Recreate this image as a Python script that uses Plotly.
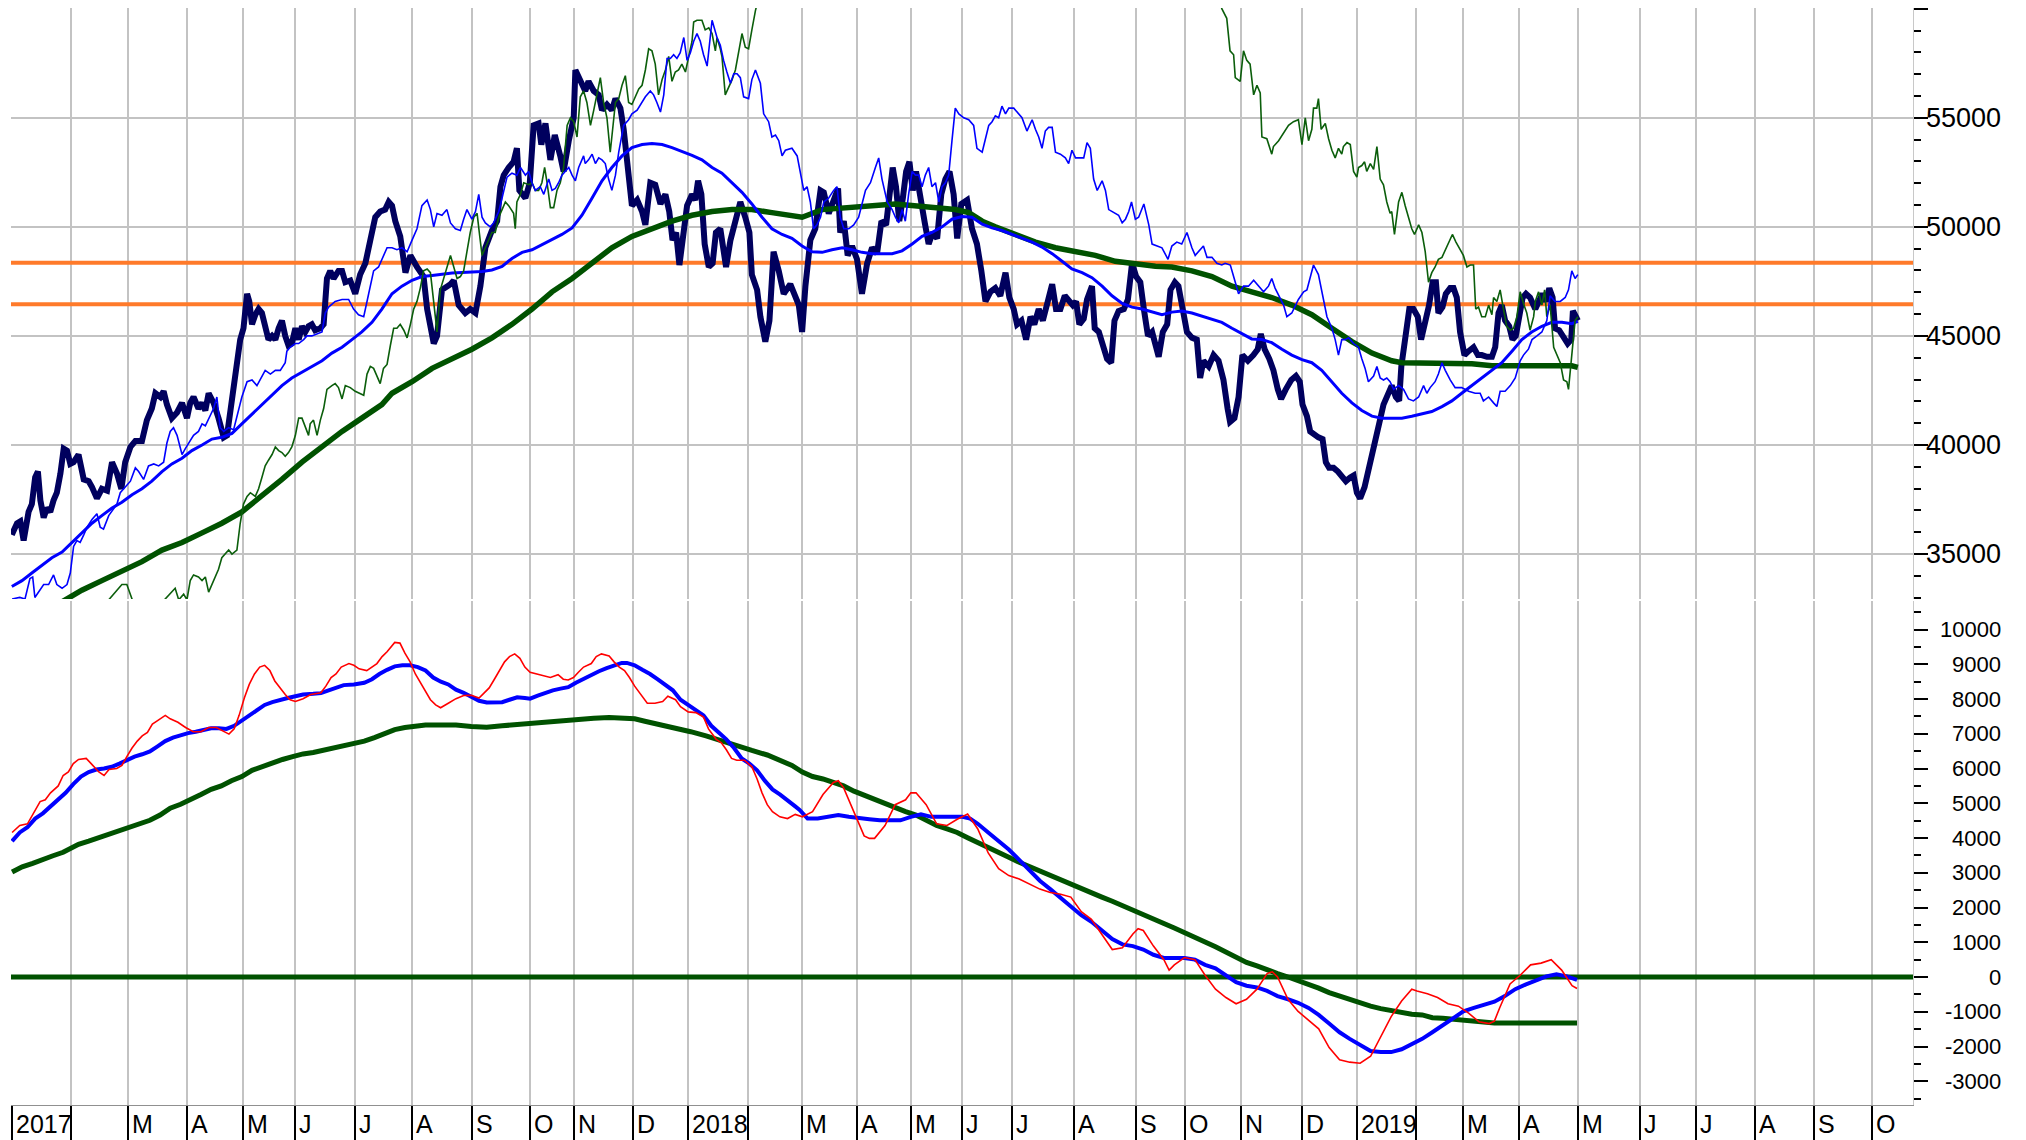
import plotly.graph_objects as go

# x axis is in trading days counted from the first session of 2017
MONTH_DAYS = [0, 21.6, 42.3, 63.9, 84.3, 103.2, 125.1, 145.9, 167.8, 188.9, 204.9, 226.4,
              246.4, 268.3, 287.9, 308.0, 327.6, 346.2, 364.4, 387.0, 409.6, 427.5, 447.8, 470.1,
              490.1, 511.6, 528.7, 549.1, 570.6, 593.2, 613.6, 635.1, 656.6, 677.8]
MONTH_LABELS = ["2017", "", "M", "A", "M", "J", "J", "A", "S", "O", "N", "D",
                "2018", "", "M", "A", "M", "J", "J", "A", "S", "O", "N", "D",
                "2019", "", "M", "A", "M", "J", "J", "A", "S", "O"]

PRICE_TICKS = [35000, 40000, 45000, 50000, 55000]
OSC_TICKS = [10000, 9000, 8000, 7000, 6000, 5000, 4000, 3000, 2000, 1000, 0,
             -1000, -2000, -3000]

LEVELS = [48350, 46450]
OSC_BASE = 0

# (day, value)
PRICE = [
    (0.1, 35880), (2, 36410), (3.2, 36500), (4.4, 35620), (6.2, 36930), (7.4, 37290),
    (8.6, 38510), (9.6, 38780), (10.5, 37460), (11.7, 36670), (12.9, 37110), (14.1, 36930),
    (15.3, 37460), (16.5, 37810), (17.8, 38690), (19, 39830), (20.2, 39740), (21.4, 39130),
    (22.6, 39210), (24.4, 39560), (26.3, 38420), (28.1, 38340), (29.3, 38070), (31.1, 37550),
    (32.9, 37990), (34.8, 37900), (36.6, 39210), (38.4, 38690), (40, 37990), (41.4, 39210),
    (43.3, 39910), (45.1, 40180), (47.5, 40180), (49.3, 41140), (51.1, 41670), (52.4, 42370),
    (54.2, 42200), (55.4, 42460), (56.6, 41850), (58.4, 41230), (60.3, 41490), (62.1, 41930),
    (63.9, 41230), (65.1, 41930), (66.3, 42200), (68.1, 41670), (69.4, 41930), (70.6, 41580),
    (71.8, 42370), (73.6, 41930), (75.4, 41230), (77.3, 40350), (78.5, 40440), (79.7, 41670),
    (80.9, 42720), (82.1, 43950), (83.3, 44830), (84.5, 45350), (85.8, 46930), (86.6, 46580),
    (87.6, 45530), (88.8, 45970), (90, 46230), (91.2, 46050), (92.4, 45530), (93.6, 44830),
    (94.9, 45000), (96.1, 44830), (97.3, 45350), (98.5, 45700), (99.7, 45000), (100.9, 44560),
    (102.1, 44650), (103.4, 45350), (104.6, 44830), (105.8, 45440), (107, 45180), (108.2, 45440),
    (109.4, 45530), (110.6, 45260), (112.5, 45350), (113.7, 45530), (114.9, 47630), (116.1, 47980),
    (117.3, 47630), (119.1, 47980), (120.4, 47980), (121.6, 47460), (123.4, 47540), (125.2, 46930),
    (127, 47810), (128.9, 48330), (130.7, 49390), (132.5, 50440), (134.3, 50700), (136.1, 50790),
    (137.4, 51140), (138.6, 50970), (139.8, 50260), (141.6, 49560), (143.5, 47900), (145.3, 48690),
    (147.7, 48160), (150.1, 47720), (151.4, 46230), (153.8, 44650), (155.0, 45000), (156.8, 47110),
    (159.9, 47370), (161.1, 47540), (162.9, 46410), (165.3, 46050), (167.1, 46230), (169.0, 46050),
    (170.8, 47280), (172.6, 49040), (175.0, 49830), (176.9, 50260), (178.1, 51840), (179.3, 52370),
    (181.1, 52720), (182.9, 52980), (184.1, 53600), (185.0, 51670), (187.2, 51320), (188.8, 52020),
    (190.2, 54650), (192.0, 54740), (193.0, 53770), (194.5, 54740), (196.3, 53070), (197.9, 54210),
    (199.9, 53250), (201.1, 52540), (203.0, 53950), (204.8, 55000), (205.4, 57190), (207.2, 56750),
    (209.0, 56230), (210.2, 56670), (212.1, 56230), (213.9, 56050), (215.1, 55350), (216.9, 55610),
    (218.7, 55350), (220.0, 55880), (221.8, 55440), (223.0, 54470), (224.2, 52900), (226.0, 50970),
    (227.9, 51230), (229.7, 50700), (230.9, 50090), (232.7, 52020), (234.5, 51930), (236.4, 51050),
    (238.2, 51490), (239.6, 50700), (240.8, 49390), (242.1, 49740), (243.3, 48250), (244.9, 49560),
    (246.1, 50970), (247.9, 51490), (249.1, 51230), (250.1, 52110), (251.3, 51490), (252.5, 49210),
    (254.0, 48160), (255.4, 48330), (256.6, 49740), (258.2, 49910), (259.4, 49040), (260.3, 48160),
    (261.9, 49390), (263.7, 50260), (265.5, 51140), (267.3, 50440), (268.8, 49740), (269.7, 47810),
    (271.6, 47110), (272.8, 45880), (274.6, 44740), (276.1, 45700), (277.6, 48860), (279.5, 47980),
    (281.3, 46930), (283.7, 47370), (286.8, 46410), (288.0, 45180), (289.2, 47280), (291.0, 49390),
    (292.8, 49910), (294.7, 51670), (295.9, 51580), (297.7, 50610), (299.5, 51320), (301.1, 51760),
    (301.9, 49740), (303.2, 50260), (304.6, 48690), (306.2, 49120), (308.0, 48510), (309.8, 46930),
    (311.7, 48330), (313.5, 49040), (315.3, 48770), (316.9, 50260), (318.6, 50090), (320.2, 52020),
    (321.0, 52720), (322.2, 51840), (323.4, 50260), (324.7, 51320), (325.9, 52540), (327.1, 52980),
    (328.3, 51670), (329.5, 52540), (331.1, 51140), (332.7, 50180), (334.1, 49210), (335.6, 49740),
    (337.2, 49470), (338.7, 51490), (340.2, 52190), (341.7, 52540), (343.2, 51490), (344.5, 49470),
    (346.0, 51050), (348.1, 51230), (349.9, 49910), (351.7, 49210), (353.3, 47980), (354.8, 46580),
    (356.6, 47020), (358.4, 47190), (360.2, 46840), (362.1, 47900), (363.5, 46760), (365.1, 46230),
    (366.3, 45530), (367.9, 45700), (369.6, 44830), (371.2, 45880), (372.6, 45530), (374.2, 46230),
    (375.7, 45700), (377.2, 46410), (379.1, 47370), (380.5, 46230), (382.1, 46230), (383.7, 46840),
    (385.1, 46580), (386.6, 46410), (387.8, 46580), (389.0, 45530), (390.6, 45790), (391.8, 46670),
    (393.6, 47280), (394.6, 45350), (396.1, 45180), (397.5, 44480), (399.1, 43950), (400.6, 43770),
    (401.8, 45700), (403.3, 46140), (405.2, 46230), (406.7, 46670), (408.2, 48330), (409.7, 47720),
    (411.2, 47460), (412.5, 46230), (414.0, 45000), (415.5, 45180), (416.7, 44650), (417.9, 44040),
    (419.4, 45180), (421.0, 45530), (422.2, 47110), (423.8, 47460), (425.1, 47280), (426.3, 46410),
    (428.2, 45180), (430.0, 44920), (431.8, 44830), (433.0, 43070), (434.2, 43860), (436.1, 43600),
    (437.9, 44120), (439.7, 43860), (441.5, 42980), (443.0, 41670), (443.9, 41060), (445.5, 41230),
    (447.0, 42200), (448.4, 44120), (450.4, 43860), (452.4, 44120), (454.0, 44390), (455.1, 45090),
    (456.5, 44390), (458.2, 43950), (459.7, 43420), (461.3, 42550), (462.5, 42110), (464.2, 42550),
    (466.2, 42980), (467.9, 43160), (469.3, 42900), (470.3, 41850), (471.9, 41320), (473.1, 40620),
    (474.7, 40440), (476.1, 40350), (477.6, 40270), (478.8, 39210), (480.0, 38950), (481.6, 38950),
    (483.2, 38780), (484.6, 38600), (486.1, 38340), (487.7, 38510), (488.9, 38600), (490.1, 37810),
    (491.3, 37550), (492.9, 38070), (494.1, 38780), (495.6, 39740), (497.0, 40440), (498.2, 40970),
    (499.8, 41850), (501.4, 42280), (502.8, 42720), (504.3, 42200), (505.5, 42020), (506.3, 43600),
    (507.7, 44830), (509.2, 46230), (510.7, 46230), (512.3, 45880), (513.5, 44830), (515.0, 45530),
    (516.4, 46410), (517.7, 47460), (518.9, 47460), (519.8, 46050), (521.3, 46320), (522.5, 46930),
    (524.1, 47190), (525.3, 47190), (526.5, 46760), (527.7, 45180), (529.3, 44120), (530.8, 44300),
    (532.6, 44480), (534.2, 44120), (535.6, 44120), (537.5, 44040), (539.3, 44040), (540.5, 44480),
    (541.7, 46050), (542.9, 46410), (544.1, 45700), (545.6, 45440), (546.8, 44830), (548.0, 45000),
    (549.2, 45880), (550.5, 46760), (551.7, 46930), (553.2, 46760), (555.1, 46230), (556.3, 46580),
    (557.7, 46930), (559.0, 46580), (560.2, 47190), (561.4, 46760), (562.3, 45350), (563.8, 45260),
    (565.4, 45000), (566.9, 44650), (568.2, 44830), (568.8, 46140), (569.9, 45880), (570.6, 45700),
]

# thin blue line
FAST = [
    (0.2, 32940), (3.0, 33010), (4.9, 32940), (6.7, 33880), (7.7, 33950), (8.5, 33010),
    (11.7, 33600), (13.5, 33600), (15.3, 34040), (16.5, 33600), (18.4, 33430), (20.2, 33600),
    (21.4, 34130), (22.6, 35350), (23.8, 35620), (25.0, 35530), (26.3, 35880), (27.5, 36230),
    (29.3, 36580), (31.1, 36850), (32.3, 36230), (33.5, 36140), (35.4, 36760), (37.2, 37110),
    (38.4, 37290), (39.6, 37810), (41.4, 38070), (43.3, 38340), (45.1, 38950), (46.3, 38780),
    (48.1, 38420), (49.9, 39040), (51.8, 39130), (53.6, 39040), (55.4, 39210), (56.6, 40090),
    (57.8, 40620), (59.0, 40790), (60.3, 40440), (62.1, 39560), (63.3, 39830), (64.5, 40090),
    (66.3, 40440), (68.1, 40620), (69.4, 40970), (70.6, 40880), (71.8, 41230), (73.6, 41670),
    (74.8, 42200), (76.0, 40790), (77.3, 40620), (79.1, 40790), (80.9, 40700), (82.1, 41320),
    (83.9, 42200), (85.8, 42900), (87.6, 42980), (89.4, 42720), (91.2, 43160), (92.4, 43420),
    (94.3, 43250), (96.1, 43420), (97.9, 43420), (99.7, 43770), (100.3, 44300), (101.5, 44480),
    (103.4, 44650), (104.6, 44650), (106.4, 44830), (107.6, 45000), (109.4, 45000), (111.3, 45090),
    (113.1, 45180), (114.3, 46050), (115.5, 46320), (117.9, 46580), (120.4, 46670), (122.8, 46670),
    (124.6, 46230), (126.4, 45970), (128.3, 45880), (130.1, 46930), (131.9, 47980), (133.7, 48160),
    (135.5, 48690), (136.8, 49040), (138.6, 49040), (140.4, 48950), (142.2, 49040), (144.1, 48860),
    (145.9, 49390), (147.7, 49910), (149.5, 50970), (151.4, 51230), (152.6, 50790), (153.8, 50000),
    (155.0, 50610), (156.8, 50530), (158.6, 50790), (159.9, 50180), (161.7, 49910), (163.5, 49830),
    (164.7, 50350), (165.9, 50790), (167.7, 50350), (169.0, 50700), (170.2, 51490), (171.4, 50440),
    (172.6, 50180), (174.4, 50000), (175.6, 50180), (177.5, 50700), (178.7, 51320), (180.5, 52280),
    (182.3, 52460), (184.1, 52370), (185.4, 52720), (187.2, 52370), (188.4, 52540), (189.6, 52020),
    (190.8, 51670), (192.6, 51840), (193.9, 51490), (195.7, 52190), (196.9, 51670), (198.1, 51760),
    (199.3, 52020), (200.5, 52370), (201.7, 52540), (203.0, 52720), (204.2, 52370), (205.4, 52110),
    (206.6, 52720), (208.4, 53250), (209.0, 52900), (210.2, 53070), (211.5, 53330), (212.7, 52900),
    (213.9, 53160), (215.1, 53070), (216.3, 52900), (217.5, 52190), (218.7, 51670), (220.0, 52370),
    (221.2, 53420), (223.0, 54650), (224.8, 54910), (226.0, 55180), (227.9, 55350), (229.1, 55610),
    (230.9, 55960), (232.7, 56230), (233.9, 56050), (235.1, 55700), (236.4, 55260), (237.6, 56050),
    (238.8, 57720), (240.0, 57720), (241.2, 57890), (242.4, 57720), (243.6, 57980), (244.9, 58680),
    (246.1, 57630), (247.3, 57980), (248.5, 58510), (249.7, 58860), (250.9, 58510), (252.1, 57890),
    (253.4, 57370), (255.2, 59470), (257.0, 58680), (258.2, 58330), (259.4, 57630), (260.6, 57100),
    (261.9, 56580), (263.1, 57020), (264.3, 57020), (265.5, 56840), (266.7, 55960), (268.5, 55880),
    (269.7, 56750), (271.0, 57190), (272.8, 56580), (274.0, 55180), (275.8, 54820), (277.0, 54120),
    (278.3, 54210), (279.5, 53950), (280.7, 53250), (281.9, 53510), (284.3, 53600), (286.2, 53250),
    (287.4, 52540), (288.6, 51670), (289.8, 51840), (291.0, 51140), (292.2, 49910), (293.4, 50090),
    (294.7, 50440), (295.9, 51140), (297.7, 51320), (299.5, 51670), (300.7, 51840), (301.9, 50440),
    (303.2, 49910), (305.0, 49910), (306.8, 50090), (308.6, 50440), (311.1, 51670), (312.9, 52020),
    (314.7, 52720), (315.9, 53160), (317.1, 52190), (319.0, 51140), (320.8, 50790), (322.0, 50440),
    (323.2, 50180), (324.4, 50790), (325.6, 50260), (326.8, 51490), (328.1, 52540), (329.3, 52370),
    (330.5, 52370), (331.7, 51840), (332.9, 52370), (334.1, 52720), (335.3, 51840), (336.6, 52020),
    (337.8, 51140), (339.0, 51840), (340.2, 52020), (341.4, 52370), (342.6, 53950), (343.8, 55440),
    (345.1, 55180), (346.9, 55000), (348.7, 54910), (350.5, 54650), (351.7, 53600), (353.6, 53420),
    (354.8, 54040), (356.0, 54650), (357.2, 54820), (358.4, 55090), (359.6, 55000), (360.8, 55530),
    (362.1, 55180), (363.3, 55440), (365.1, 55440), (366.3, 55260), (368.1, 55000), (369.9, 54390),
    (371.8, 54910), (373.0, 54470), (374.2, 54120), (375.4, 53600), (376.6, 54390), (377.8, 54560),
    (379.1, 54560), (380.3, 53420), (382.1, 53330), (383.9, 53160), (385.1, 52900), (386.3, 53510),
    (387.6, 53160), (389.4, 53160), (390.6, 53160), (391.8, 53860), (393.0, 53600), (394.2, 52190),
    (395.5, 51670), (397.3, 52110), (398.5, 51670), (399.7, 50790), (400.9, 50700), (402.1, 50610),
    (403.3, 50530), (404.6, 50180), (405.8, 50350), (407.0, 50700), (408.0, 51140), (409.4, 50350),
    (410.6, 50440), (412.5, 51050), (414.3, 50090), (415.5, 49210), (417.3, 49120), (419.1, 49040),
    (421.3, 48510), (422.7, 49120), (424.5, 49300), (426.3, 49210), (428.2, 49740), (430.0, 49040),
    (431.2, 48690), (432.4, 48860), (434.2, 49120), (435.5, 48600), (437.3, 48600), (439.1, 48330),
    (440.9, 48250), (442.1, 48330), (444.0, 48250), (445.2, 47720), (447.0, 46930), (448.8, 47280),
    (450.6, 47280), (452.5, 47550), (454.3, 47280), (456.1, 47020), (457.9, 47280), (459.1, 47630),
    (460.3, 47190), (462.2, 46670), (463.4, 46410), (464.6, 45880), (466.4, 46050), (468.8, 46670),
    (470.7, 47020), (471.9, 47110), (473.1, 47720), (474.3, 48250), (476.1, 47810), (478.0, 46580),
    (479.2, 45880), (481.0, 45350), (482.2, 44830), (483.4, 44120), (484.6, 44830), (485.8, 44830),
    (487.1, 44910), (488.9, 44650), (490.7, 44480), (491.9, 43950), (493.1, 43510), (494.3, 42900),
    (496.2, 43160), (497.4, 43600), (498.6, 43070), (499.8, 42980), (501.0, 43070), (502.2, 42900),
    (503.5, 42550), (505.3, 42720), (507.1, 42550), (508.9, 42110), (510.7, 42020), (512.6, 42200),
    (514.4, 42720), (515.6, 42370), (516.8, 42630), (518.6, 42900), (519.8, 43250), (521.1, 43770),
    (522.3, 43420), (524.1, 42980), (525.9, 42630), (528.3, 42630), (530.8, 42460), (533.2, 42370),
    (535.0, 42370), (536.2, 42020), (538.1, 42200), (539.9, 41930), (541.1, 41760), (542.3, 42460),
    (544.1, 42460), (546.0, 42720), (547.8, 43070), (549.6, 43860), (550.8, 44120), (552.6, 44390),
    (553.9, 44830), (555.7, 45000), (557.5, 45180), (559.3, 45700), (560.5, 46840), (562.3, 46580),
    (564.2, 46580), (566.0, 46760), (567.2, 47110), (568.4, 47980), (569.6, 47630), (570.6, 47810),
]

# thin green line (runs off the panel at both ends of its big swing)
SLOW = [
    (34.0, 32600), (35.4, 32900), (38.4, 33340), (40.2, 33600), (42.0, 33600), (43.3, 33160),
    (44.5, 32720), (52.0, 32400), (59.6, 33430), (60.9, 32900), (62.7, 33160), (63.9, 32900),
    (65.1, 33780), (66.3, 34040), (68.1, 33950), (69.4, 33780), (70.6, 33950), (71.8, 33250),
    (73.6, 33780), (75.4, 34300), (76.6, 34830), (77.9, 35000), (79.1, 35180), (80.3, 35000),
    (82.1, 35180), (83.3, 36410), (84.5, 37290), (85.8, 37640), (87.0, 37810), (88.8, 37640),
    (90.0, 37990), (91.2, 38510), (92.4, 39040), (93.6, 39300), (94.9, 39560), (96.1, 39910),
    (97.3, 39740), (98.5, 39650), (99.7, 39480), (100.9, 39650), (102.1, 39910), (103.4, 40440),
    (104.6, 41230), (105.8, 41230), (107.0, 40790), (108.2, 40440), (108.8, 40970), (110.0, 41140),
    (111.3, 40440), (112.5, 41140), (113.7, 41670), (114.9, 42550), (116.7, 42720), (117.9, 42810),
    (119.1, 42630), (120.4, 42110), (121.6, 42720), (123.4, 42630), (125.2, 42460), (127.0, 42370),
    (128.3, 42280), (129.5, 43250), (130.7, 43600), (131.9, 43510), (133.1, 43160), (134.3, 42810),
    (135.5, 43510), (136.8, 43690), (138.0, 44560), (139.2, 45350), (140.4, 45350), (141.6, 45530),
    (142.9, 45260), (144.1, 44910), (145.3, 45530), (146.5, 46230), (147.7, 46580), (148.9, 47190),
    (150.1, 47980), (151.4, 48070), (152.6, 47900), (153.8, 46410), (155.0, 45180), (156.2, 47110),
    (157.4, 47630), (158.6, 48160), (159.9, 48690), (161.1, 48160), (162.3, 47630), (163.5, 47720),
    (164.7, 47980), (165.9, 48860), (167.1, 49740), (168.4, 50440), (169.6, 50620), (170.4, 49740),
    (171.4, 48690), (172.6, 49040), (173.8, 49390), (175.0, 49740), (176.2, 49740), (177.5, 50440),
    (178.7, 50790), (179.9, 51140), (181.1, 50970), (182.9, 50620), (183.5, 49910), (184.1, 51140),
    (185.4, 51490), (186.6, 52020), (188.4, 51930), (189.6, 52020), (190.8, 51670), (192.0, 51670),
    (193.2, 52020), (194.2, 52720), (195.1, 52020), (196.3, 50880), (197.5, 50880), (198.7, 51670),
    (199.9, 52020), (201.1, 52720), (202.4, 54650), (203.6, 55000), (204.8, 54820), (206.0, 54120),
    (207.2, 55960), (208.4, 56230), (209.6, 55700), (210.9, 54650), (212.1, 55350), (213.3, 56140),
    (214.5, 56840), (215.7, 55700), (216.9, 55000), (218.1, 53420), (219.0, 54470), (220.0, 55700),
    (221.2, 55880), (222.4, 56490), (223.6, 56930), (224.8, 55700), (226.0, 55610), (227.2, 55960),
    (228.5, 56320), (229.7, 56490), (230.9, 57190), (232.1, 58160), (233.3, 58070), (234.5, 57460),
    (235.7, 56050), (237.0, 56750), (238.2, 57190), (239.4, 57810), (240.6, 56670), (241.8, 57100),
    (243.0, 57190), (244.2, 57460), (245.5, 57100), (246.7, 57810), (247.9, 58510), (248.5, 59390),
    (249.7, 59470), (251.5, 59470), (252.7, 59030), (254.0, 59120), (255.2, 58860), (256.4, 58070),
    (257.0, 58680), (258.2, 58160), (258.8, 57810), (260.0, 56050), (261.2, 56400), (262.5, 56750),
    (263.7, 57190), (264.9, 57980), (266.1, 58860), (267.3, 58240), (268.5, 58160), (269.7, 59030),
    (271.0, 59910), (274.0, 61500), (438.0, 61500), (440.9, 60000), (442.7, 59560), (443.9, 58070),
    (445.2, 57890), (445.8, 56840), (447.6, 56670), (448.8, 58070), (450.0, 57630), (451.2, 57460),
    (452.5, 56050), (453.7, 56490), (454.9, 56140), (455.5, 54120), (457.3, 54040), (459.1, 53330),
    (459.7, 53680), (461.6, 53950), (463.4, 54300), (465.2, 54650), (467.0, 54820), (468.8, 54910),
    (470.1, 53770), (471.3, 55000), (472.5, 53950), (473.7, 54470), (474.3, 55440), (475.5, 55440),
    (476.1, 55880), (477.1, 54470), (478.6, 54740), (479.8, 54040), (481.0, 53510), (482.2, 53160),
    (483.4, 53600), (484.6, 53330), (485.2, 53680), (486.5, 53860), (487.7, 53770), (488.9, 52540),
    (490.1, 52280), (490.7, 52720), (491.9, 52810), (492.9, 52980), (493.7, 52540), (495.0, 52900),
    (496.2, 52630), (497.4, 53680), (498.6, 52190), (499.8, 51930), (501.0, 51140), (502.2, 50620),
    (502.8, 50700), (503.8, 49650), (505.3, 51140), (506.5, 51580), (507.7, 50970), (508.9, 50440),
    (510.1, 49910), (511.1, 49650), (512.6, 50090), (513.8, 49740), (515.0, 48860), (516.2, 47460),
    (517.4, 47900), (518.6, 48160), (519.8, 48510), (521.1, 48600), (522.3, 48950), (523.5, 49300),
    (524.9, 49650), (526.2, 49300), (527.4, 49040), (528.9, 48690), (530.2, 48160), (531.4, 48250),
    (532.6, 48250), (533.4, 46230), (534.4, 46320), (535.6, 45880), (536.9, 45880), (538.1, 46410),
    (539.3, 45970), (539.9, 46760), (541.1, 46580), (542.3, 47110), (543.5, 46230), (544.7, 45440),
    (546.0, 45260), (547.2, 45350), (548.4, 45880), (549.6, 47020), (550.8, 46490), (552.0, 46050),
    (553.2, 45260), (554.5, 45880), (555.1, 46580), (556.3, 47020), (557.5, 46410), (558.5, 47110),
    (559.3, 45880), (560.5, 46410), (561.8, 44480), (563.6, 43950), (564.2, 43770), (565.4, 42980),
    (566.6, 42900), (567.2, 42550), (568.4, 44300), (569.6, 45700), (570.6, 45880),
]

# thick blue average
AVG_BLUE = [
    (0.1, 33510), (3.8, 33780), (7.4, 34130), (11.1, 34480), (14.7, 34830), (18.4, 35090),
    (22.0, 35530), (25.6, 35970), (29.3, 36410), (32.9, 36760), (36.6, 37110), (40.2, 37370),
    (43.9, 37720), (47.5, 37990), (51.1, 38340), (54.8, 38780), (58.4, 39130), (62.1, 39390),
    (65.7, 39740), (69.4, 40000), (73.0, 40270), (76.6, 40350), (80.3, 40530), (83.9, 40970),
    (87.6, 41410), (91.2, 41850), (94.9, 42280), (98.5, 42720), (102.1, 43070), (105.8, 43340),
    (109.4, 43600), (113.1, 43860), (116.7, 44210), (120.4, 44480), (124.0, 44830), (127.6, 45180),
    (131.3, 45620), (134.9, 46230), (138.6, 46930), (142.2, 47280), (145.9, 47550), (149.5, 47720),
    (153.2, 47770), (156.8, 47840), (160.5, 47880), (164.1, 47910), (167.7, 47930), (171.4, 47950),
    (175.0, 48020), (178.7, 48190), (182.3, 48550), (186.0, 48830), (189.6, 48950), (193.2, 49180),
    (196.9, 49390), (200.5, 49650), (204.2, 49950), (207.8, 50530), (211.5, 51320), (215.1, 52110),
    (218.7, 52720), (222.4, 53250), (226.0, 53630), (229.7, 53770), (233.3, 53820), (237.0, 53770),
    (240.6, 53630), (244.2, 53460), (247.9, 53280), (251.5, 53070), (255.2, 52720), (258.8, 52460),
    (262.5, 52020), (266.1, 51580), (269.7, 51050), (273.4, 50440), (277.0, 49910), (280.7, 49650),
    (284.3, 49470), (288.0, 49120), (291.6, 48860), (295.3, 48830), (298.9, 48950), (302.6, 49040),
    (306.2, 48950), (309.8, 48830), (313.5, 48770), (317.1, 48770), (320.8, 48770), (324.4, 48900),
    (328.1, 49210), (331.7, 49560), (335.3, 49740), (339.0, 50000), (342.6, 50350), (346.3, 50470),
    (349.9, 50440), (353.6, 50120), (357.2, 49950), (360.8, 49830), (364.5, 49650), (368.1, 49470),
    (371.8, 49300), (375.4, 49070), (379.1, 48770), (382.7, 48420), (386.3, 48070), (390.0, 47900),
    (393.6, 47670), (397.3, 47280), (400.9, 46840), (404.6, 46490), (408.2, 46320), (411.8, 46230),
    (415.5, 46090), (419.1, 45970), (422.7, 46090), (426.3, 46140), (430.0, 46050), (433.6, 45910),
    (437.3, 45790), (440.9, 45620), (444.6, 45350), (448.2, 45090), (451.8, 44860), (455.5, 44830),
    (459.1, 44690), (462.8, 44390), (466.4, 44120), (470.1, 43910), (473.7, 43770), (477.3, 43420),
    (481.0, 42900), (484.6, 42370), (488.3, 41930), (491.9, 41580), (495.6, 41320), (499.2, 41230),
    (502.8, 41230), (506.5, 41230), (510.1, 41320), (513.8, 41410), (517.4, 41530), (521.1, 41760),
    (524.7, 42020), (528.3, 42370), (532.0, 42720), (535.6, 43070), (539.3, 43420), (542.9, 43770),
    (546.6, 44300), (550.2, 44830), (553.8, 45180), (557.5, 45440), (561.1, 45620), (564.8, 45620),
    (568.4, 45560), (570.6, 45670),
]

# thick green average
AVG_GREEN = [
    (18.4, 32810), (25.6, 33340), (32.9, 33780), (40.2, 34220), (47.5, 34650), (54.8, 35180),
    (62.1, 35530), (69.4, 35970), (76.6, 36410), (83.9, 36930), (91.2, 37640), (98.5, 38420),
    (105.8, 39210), (113.1, 39920), (120.4, 40620), (127.6, 41230), (134.9, 41850), (138.6, 42370),
    (145.9, 42900), (153.2, 43510), (160.5, 43950), (167.7, 44390), (175.0, 44910), (182.3, 45530),
    (189.6, 46230), (196.9, 47020), (204.2, 47630), (211.5, 48330), (218.7, 49040), (226.0, 49560),
    (233.3, 49910), (240.6, 50260), (247.9, 50530), (255.2, 50700), (262.5, 50790), (269.7, 50790),
    (277.0, 50650), (283.7, 50560), (288.0, 50440), (295.3, 50790), (302.6, 50880), (309.8, 50970),
    (317.1, 51000), (322.0, 51050), (329.3, 50970), (336.6, 50880), (343.8, 50790), (348.7, 50650),
    (353.6, 50260), (358.4, 50000), (365.7, 49650), (373.0, 49300), (380.3, 49040), (387.6, 48860),
    (394.8, 48690), (402.1, 48420), (409.4, 48280), (416.7, 48190), (422.7, 48160), (430.0, 47980),
    (437.3, 47720), (444.6, 47280), (451.8, 47020), (459.1, 46760), (466.4, 46410), (473.7, 45970),
    (481.0, 45350), (488.3, 44740), (495.6, 44210), (502.8, 43860), (506.5, 43770), (517.4, 43770),
    (532.0, 43720), (539.3, 43630), (553.8, 43600), (568.4, 43630), (570.6, 43560),
]

# lower panel
OSC_RED = [
    (0.2, 4160), (3.0, 4360), (5.8, 4410), (7.7, 4660), (10.4, 5050), (12.3, 5100), (14.2, 5300),
    (17.0, 5500), (18.8, 5800), (20.7, 5900), (22.5, 6140), (24.4, 6260), (27.2, 6290), (29.0, 6140),
    (31.8, 5900), (33.7, 5800), (35.5, 5970), (38.3, 6000), (40.2, 6090), (42.0, 6340), (43.9, 6590),
    (45.8, 6790), (47.6, 6940), (49.5, 7040), (51.3, 7280), (53.2, 7380), (56.0, 7530), (57.8, 7430),
    (60.6, 7330), (63.4, 7180), (66.2, 7060), (69.0, 7060), (71.8, 7180), (74.6, 7180), (77.4, 7060),
    (79.2, 6990), (81.1, 7140), (82.9, 7530), (84.8, 8030), (86.6, 8420), (88.5, 8720), (90.4, 8920),
    (92.2, 8970), (94.1, 8820), (95.9, 8520), (97.8, 8320), (99.7, 8130), (101.5, 7980), (103.4, 7930),
    (106.2, 8010), (109.0, 8130), (112.7, 8180), (114.5, 8370), (116.4, 8620), (118.2, 8720),
    (120.1, 8920), (122.9, 9020), (124.7, 8970), (126.6, 8870), (129.4, 8820), (131.3, 8920),
    (133.1, 9020), (135.0, 9220), (136.8, 9360), (139.6, 9630), (141.5, 9610), (143.3, 9320),
    (145.2, 9070), (147.1, 8720), (148.9, 8470), (150.8, 8230), (152.6, 7980), (154.5, 7830),
    (156.3, 7750), (159.1, 7880), (161.9, 8010), (164.7, 8100), (167.5, 8110), (170.3, 8030),
    (172.2, 8180), (174.0, 8320), (175.9, 8570), (177.7, 8820), (179.6, 9070), (181.4, 9220),
    (183.3, 9300), (185.2, 9170), (187.0, 8920), (188.9, 8770), (191.7, 8720), (193.5, 8670),
    (196.3, 8620), (199.1, 8700), (201.0, 8570), (202.8, 8550), (204.7, 8620), (206.5, 8770),
    (208.4, 8920), (211.2, 9020), (213.0, 9220), (214.9, 9300), (217.7, 9240), (219.5, 9070),
    (221.4, 8920), (223.3, 8820), (225.1, 8620), (227.0, 8370), (228.8, 8180), (231.6, 7880),
    (234.4, 7880), (237.2, 7930), (239.1, 8080), (241.9, 7980), (243.7, 7780), (246.5, 7630),
    (249.3, 7610), (252.1, 7480), (253.9, 7140), (256.7, 6840), (258.6, 6740), (260.4, 6540),
    (262.3, 6290), (264.2, 6240), (267.0, 6240), (269.7, 6050), (271.6, 5700), (273.4, 5300),
    (275.3, 4960), (277.2, 4760), (279.9, 4610), (282.7, 4560), (285.5, 4680), (288.1, 4610),
    (291.8, 4760), (295.6, 5250), (299.4, 5600), (301.2, 5650), (303.1, 5450), (306.9, 4760),
    (310.6, 4060), (312.5, 3990), (314.4, 3990), (318.2, 4360), (321.9, 4960), (325.7, 5100),
    (327.6, 5300), (329.5, 5300), (333.2, 4960), (337.0, 4410), (340.8, 4360), (344.5, 4540),
    (348.3, 4690), (352.0, 4260), (355.8, 3570), (359.6, 3120), (363.3, 2920), (367.1, 2820),
    (370.9, 2680), (374.6, 2530), (378.4, 2430), (382.2, 2380), (385.9, 2300), (389.7, 1880),
    (393.4, 1660), (397.2, 1240), (401.0, 790), (404.7, 840), (408.5, 1240), (410.4, 1390),
    (412.3, 1340), (416.0, 890), (419.8, 500), (421.7, 200), (423.6, 350), (427.3, 560), (431.1, 500),
    (434.8, 50), (438.6, -350), (442.4, -590), (446.1, -770), (449.9, -640), (453.7, -350),
    (457.4, 100), (459.3, 150), (461.2, 0), (465.0, -640), (468.7, -990), (472.5, -1240),
    (476.2, -1490), (480.0, -2030), (483.8, -2380), (487.5, -2450), (491.3, -2480), (495.1, -2280),
    (498.8, -1730), (502.6, -1140), (506.4, -690), (510.1, -350), (512.0, -400), (515.8, -480),
    (519.5, -590), (523.3, -770), (527.1, -840), (530.8, -1040), (534.6, -1290), (538.3, -1340),
    (540.2, -1270), (542.1, -890), (545.9, -200), (549.6, 50), (553.4, 350), (557.2, 400),
    (560.9, 500), (564.7, 200), (568.5, -250), (570.3, -330),
]

OSC_BLUE = [
    (0.2, 3910), (3.0, 4160), (5.8, 4310), (8.6, 4560), (11.4, 4710), (14.2, 4910), (17.0, 5100),
    (19.7, 5300), (22.5, 5550), (25.3, 5770), (28.1, 5900), (30.9, 5970), (33.7, 6000), (36.5, 6050),
    (39.3, 6140), (42.0, 6240), (44.8, 6340), (47.6, 6410), (50.4, 6490), (53.2, 6640), (56.0, 6790),
    (58.8, 6890), (61.6, 6960), (64.3, 7020), (67.1, 7060), (69.9, 7120), (72.7, 7160), (75.5, 7160),
    (78.3, 7140), (81.1, 7230), (83.9, 7380), (86.6, 7530), (89.4, 7680), (92.2, 7830), (95.0, 7910),
    (97.8, 7980), (100.6, 8030), (103.4, 8080), (106.2, 8130), (109.9, 8150), (112.7, 8170),
    (115.5, 8250), (118.2, 8320), (121.0, 8400), (124.7, 8420), (128.5, 8470), (131.3, 8570),
    (134.0, 8720), (136.8, 8840), (139.6, 8940), (142.4, 8970), (145.2, 8970), (148.0, 8920),
    (150.8, 8820), (153.6, 8620), (156.4, 8500), (159.1, 8420), (161.9, 8270), (164.7, 8180),
    (167.5, 8050), (170.3, 7950), (173.1, 7900), (175.9, 7910), (178.7, 7910), (181.4, 7980),
    (184.2, 8050), (187.0, 8030), (188.9, 8010), (191.7, 8100), (194.5, 8180), (197.2, 8250),
    (200.0, 8300), (202.8, 8340), (205.6, 8470), (208.4, 8590), (211.2, 8700), (214.0, 8800),
    (216.8, 8890), (219.5, 8970), (222.3, 9040), (224.2, 9040), (227.0, 8970), (229.8, 8840),
    (232.6, 8720), (235.3, 8570), (238.1, 8420), (240.9, 8250), (243.7, 7980), (246.5, 7830),
    (249.3, 7680), (252.1, 7530), (254.9, 7230), (257.7, 7040), (260.4, 6840), (263.2, 6590),
    (266.0, 6290), (268.8, 6140), (271.6, 5950), (274.4, 5650), (277.2, 5400), (280.0, 5250),
    (282.7, 5100), (285.5, 4910), (287.1, 4810), (290.0, 4560), (293.7, 4560), (297.5, 4610),
    (301.2, 4660), (305.0, 4610), (308.8, 4560), (312.5, 4540), (316.3, 4510), (320.1, 4510),
    (323.8, 4510), (327.6, 4610), (331.3, 4680), (335.1, 4610), (338.9, 4610), (342.6, 4610),
    (346.4, 4610), (349.2, 4560), (352.0, 4410), (355.8, 4160), (359.6, 3910), (363.3, 3670),
    (367.1, 3370), (370.9, 3070), (374.6, 2770), (378.4, 2530), (382.2, 2280), (385.9, 2030),
    (389.7, 1780), (393.4, 1590), (397.2, 1340), (401.0, 1090), (404.7, 940), (408.5, 890),
    (412.3, 790), (416.0, 640), (419.8, 550), (423.6, 550), (427.3, 550), (431.1, 500), (434.8, 350),
    (438.6, 250), (442.4, 50), (446.1, -150), (449.9, -250), (453.7, -300), (457.4, -400),
    (461.2, -550), (465.0, -640), (468.7, -740), (472.5, -890), (476.2, -1090), (480.0, -1340),
    (483.8, -1590), (487.5, -1780), (491.3, -1960), (495.1, -2130), (498.8, -2160), (502.6, -2160),
    (506.4, -2080), (510.1, -1930), (513.9, -1780), (517.6, -1590), (521.4, -1390), (525.2, -1190),
    (528.9, -990), (532.7, -890), (536.5, -790), (540.2, -710), (544.0, -550), (547.8, -350),
    (551.5, -220), (555.3, -100), (559.1, 20), (562.8, 80), (566.6, 20), (570.3, -80),
]

OSC_GREEN = [
    (0.2, 3020), (3.9, 3170), (7.7, 3270), (11.4, 3390), (15.1, 3490), (18.8, 3590), (21.6, 3720),
    (24.4, 3820), (28.1, 3910), (31.8, 4010), (35.5, 4110), (39.3, 4210), (43.0, 4280), (46.7, 4380),
    (50.4, 4510), (54.1, 4660), (57.8, 4860), (61.6, 4970), (65.3, 5100), (69.0, 5250), (72.7, 5400),
    (76.4, 5500), (80.1, 5650), (83.9, 5770), (87.6, 5950), (91.3, 6060), (95.0, 6160), (98.7, 6260),
    (102.4, 6340), (106.2, 6420), (109.9, 6460), (113.6, 6520), (117.3, 6590), (121.0, 6660),
    (124.7, 6720), (128.5, 6790), (132.2, 6890), (135.9, 7020), (139.6, 7120), (143.3, 7180),
    (147.1, 7230), (150.8, 7250), (156.4, 7250), (161.9, 7250), (167.5, 7210), (173.1, 7190),
    (178.7, 7230), (184.2, 7270), (189.8, 7310), (195.4, 7350), (201.0, 7400), (206.5, 7430),
    (212.1, 7450), (217.7, 7470), (223.3, 7460), (227.0, 7430), (230.7, 7360), (236.3, 7270),
    (241.9, 7170), (247.4, 7060), (253.0, 6940), (258.6, 6790), (264.2, 6660), (269.7, 6520),
    (275.3, 6390), (280.9, 6190), (284.3, 6090), (288.1, 5900), (291.8, 5770), (295.6, 5700),
    (299.4, 5600), (303.1, 5500), (306.9, 5350), (310.6, 5230), (314.4, 5100), (318.2, 4980),
    (321.9, 4860), (325.7, 4760), (329.5, 4660), (333.2, 4510), (337.0, 4360), (340.8, 4260),
    (344.5, 4160), (348.3, 4010), (352.0, 3880), (355.8, 3750), (359.6, 3590), (363.3, 3450),
    (367.1, 3300), (370.9, 3170), (374.6, 3040), (378.4, 2920), (382.2, 2790), (385.9, 2680),
    (389.7, 2550), (393.4, 2430), (397.2, 2300), (401.0, 2180), (404.7, 2050), (408.5, 1900),
    (412.3, 1780), (416.0, 1660), (419.8, 1540), (423.6, 1410), (427.3, 1290), (431.1, 1140),
    (434.8, 1010), (438.6, 870), (442.4, 710), (446.1, 560), (449.9, 420), (453.7, 320), (457.4, 230),
    (461.2, 100), (465.0, 0), (468.7, -100), (472.5, -200), (476.2, -320), (480.0, -450),
    (483.8, -550), (487.5, -670), (491.3, -770), (495.1, -840), (498.8, -910), (502.6, -970),
    (506.4, -1020), (510.1, -1070), (513.9, -1090), (517.6, -1170), (521.4, -1190), (525.2, -1210),
    (528.9, -1240), (532.7, -1270), (536.5, -1290), (540.2, -1320), (547.8, -1320), (555.3, -1320),
    (562.8, -1320), (570.3, -1320),
]

# style
NAVY = "#00005e"
BLUE = "#0000ff"
DARK_GREEN = "#005200"
THIN_GREEN = "#0b5e0b"
ORANGE = "#ff7a2a"
RED = "#ff0000"
GRID = "#c3c3c3"
FONT = "Liberation Sans, Arial, sans-serif"
X_RANGE = [-0.2, 692.7]


def line(points, color, width, axis):
    xs = [p[0] for p in points]
    ys = [p[1] for p in points]
    xa, ya = ("x", "y") if axis == 1 else ("x2", "y2")
    return go.Scatter(x=xs, y=ys, mode="lines", line=dict(color=color, width=width),
                      xaxis=xa, yaxis=ya, hoverinfo="skip", showlegend=False)


def level(value, color, width, axis):
    # horizontal rule across the whole time axis
    return line([(X_RANGE[0], value), (X_RANGE[1], value)], color, width, axis)


fig = go.Figure()
for lvl in LEVELS:
    fig.add_trace(level(lvl, ORANGE, 4, 1))
fig.add_trace(line(PRICE, NAVY, 6, 1))
fig.add_trace(line(AVG_GREEN, DARK_GREEN, 5.5, 1))
fig.add_trace(line(AVG_BLUE, BLUE, 3, 1))
fig.add_trace(line(SLOW, THIN_GREEN, 1.6, 1))
fig.add_trace(line(FAST, BLUE, 1.6, 1))

fig.add_trace(level(OSC_BASE, DARK_GREEN, 5, 2))
fig.add_trace(line(OSC_GREEN, DARK_GREEN, 5, 2))
fig.add_trace(line(OSC_BLUE, BLUE, 4, 2))
fig.add_trace(line(OSC_RED, RED, 1.6, 2))

annotations = []
for d, lab in zip(MONTH_DAYS, MONTH_LABELS):
    if lab:
        annotations.append(dict(x=d, xref="x2", y=0, yref="paper", text=lab, showarrow=False,
                                xanchor="left", yanchor="middle", xshift=2, yshift=-19,
                                font=dict(family=FONT, size=25, color="black")))
for v in PRICE_TICKS:
    annotations.append(dict(x=1, xref="paper", y=v, yref="y", text=str(v), showarrow=False,
                            xanchor="right", yanchor="middle", xshift=90,
                            font=dict(family=FONT, size=27, color="black")))
for v in OSC_TICKS:
    annotations.append(dict(x=1, xref="paper", y=v, yref="y2", text=str(v), showarrow=False,
                            xanchor="right", yanchor="middle", xshift=90,
                            font=dict(family=FONT, size=22, color="black")))

axis_common = dict(showgrid=True, gridcolor=GRID, gridwidth=2, zeroline=False)

fig.update_layout(
    width=2026, height=1140,
    margin=dict(l=3, r=121, t=0, b=43),
    paper_bgcolor="white", plot_bgcolor="white",
    showlegend=False,
    font=dict(family=FONT, color="black"),
    annotations=annotations,
    xaxis=dict(domain=[0, 1], anchor="y", range=X_RANGE, tickmode="array", tickvals=MONTH_DAYS,
               showticklabels=False, ticks="", **axis_common),
    xaxis2=dict(domain=[0, 1], anchor="y2", range=X_RANGE, tickmode="array", tickvals=MONTH_DAYS,
                showticklabels=False, ticks="outside", ticklen=40, tickwidth=1.5,
                tickcolor="black", showline=True, linecolor="#909090", linewidth=1,
                **axis_common),
    yaxis=dict(domain=[0.4613, 1], anchor="x", side="right", range=[32940, 60032],
               tickmode="linear", tick0=0, dtick=5000, showticklabels=False,
               ticks="outside", ticklen=14, tickwidth=2, tickcolor="black",
               minor=dict(ticks="outside", ticklen=7, tickwidth=2, tickcolor="black",
                          tick0=0, dtick=1000, showgrid=False),
               showline=True, linecolor="#c8c8c8", linewidth=1, **axis_common),
    yaxis2=dict(domain=[0, 0.4594], anchor="x2", side="right", range=[-3683, 10820],
                tickmode="linear", tick0=0, dtick=1000, showticklabels=False,
                ticks="outside", ticklen=14, tickwidth=2, tickcolor="black",
                minor=dict(ticks="outside", ticklen=7, tickwidth=2, tickcolor="black",
                           tick0=0, dtick=500, showgrid=False),
                showline=True, linecolor="#c8c8c8", linewidth=1,
                showgrid=False, zeroline=False),
)

fig.write_html("out.html")
